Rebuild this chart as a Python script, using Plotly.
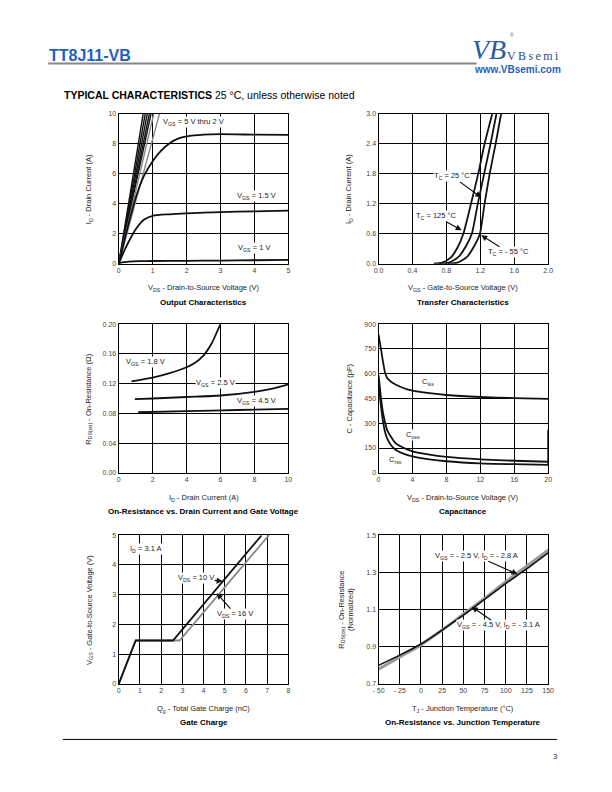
import plotly.graph_objects as go

# ---------------- DATA ----------------
# Output characteristics
out_steep_ends = [0.72, 0.78, 0.84, 0.90, 0.95, 1.03, 1.20]   # VDS where ID hits 10 A
out_steep_colors = ["#111", "#111", "#111", "#111", "#111", "#888", "#888"]
out_2v_x = [0, 0.25, 0.5, 0.75, 1.0, 1.25, 1.5, 1.75, 2.0, 2.5, 3.0, 4.0, 5.0]
out_2v_y = [0, 2.3, 4.4, 5.9, 6.85, 7.55, 8.05, 8.35, 8.5, 8.62, 8.65, 8.62, 8.6]
out_15v_x = [0, 0.15, 0.3, 0.5, 0.75, 1.0, 1.5, 2.0, 3.0, 4.0, 5.0]
out_15v_y = [0, 0.8, 1.5, 2.3, 2.95, 3.2, 3.3, 3.36, 3.45, 3.5, 3.55]
out_1v_x = [0, 0.1, 0.3, 0.6, 1.0, 2.0, 3.0, 4.0, 5.0]
out_1v_y = [0, 0.08, 0.14, 0.17, 0.18, 0.19, 0.21, 0.23, 0.25]

# Transfer characteristics
tr_125_x = [0.65, 0.75, 0.85, 0.93, 1.0, 1.09, 1.175, 1.25, 1.34]
tr_125_y = [0.0, 0.02, 0.12, 0.32, 0.6, 1.2, 1.8, 2.4, 3.0]
tr_25_x = [0.72, 0.83, 0.94, 1.03, 1.1, 1.17, 1.245, 1.32, 1.39]
tr_25_y = [0.0, 0.02, 0.13, 0.35, 0.6, 1.2, 1.8, 2.4, 3.0]
tr_m55_x = [0.82, 0.93, 1.04, 1.13, 1.195, 1.25, 1.31, 1.38, 1.445]
tr_m55_y = [0.0, 0.02, 0.13, 0.36, 0.6, 1.2, 1.8, 2.4, 3.0]

# On-resistance vs drain current
ron_18_x = [0.75, 2.0, 3.0, 4.0, 4.5, 5.0, 5.5, 5.8, 6.0]
ron_18_y = [0.123, 0.128, 0.134, 0.142, 0.148, 0.158, 0.175, 0.19, 0.2]
ron_25_x = [0.95, 2.0, 4.0, 6.0, 8.0, 9.0, 10.0]
ron_25_y = [0.099, 0.1, 0.102, 0.104, 0.109, 0.113, 0.119]
ron_45_x = [1.15, 4.0, 7.0, 10.0]
ron_45_y = [0.0815, 0.083, 0.0845, 0.086]

# Capacitance
cap_x = [0, 0.25, 0.5, 0.75, 1.0, 1.5, 2.0, 3.0, 4.0, 6.0, 8.0, 12.0, 16.0, 20.0]
cap_ciss = [835, 760, 680, 610, 575, 550, 535, 512, 497, 482, 471, 459, 452, 447]
cap_coss = [590, 470, 370, 310, 260, 215, 180, 150, 130, 110, 97, 82, 73, 67]
cap_crss = [560, 420, 320, 250, 210, 165, 140, 115, 100, 82, 70, 57, 52, 48]
cap_edge_y = [45, 260]

# Gate charge
gc_10_x = [0, 0.8, 2.56, 6.74]
gc_10_y = [0, 1.46, 1.46, 5.0]
gc_16_x = [0, 0.8, 2.87, 7.08]
gc_16_y = [0, 1.46, 1.46, 5.0]

# On-resistance vs junction temperature
tj_x = [-50, -25, 0, 25, 50, 75, 100, 125, 150]
tj_45 = [0.80, 0.855, 0.915, 0.99, 1.07, 1.155, 1.24, 1.32, 1.405]
tj_25 = [0.78, 0.845, 0.91, 0.99, 1.075, 1.16, 1.25, 1.335, 1.42]
tj_ticks = [-50, -25, 0, 25, 50, 75, 100, 125, 150]
tj_ticktext = ["- 50", "- 25", "0", "25", "50", "75", "100", "125", "150"]

# ---------------- LAYOUT HELPERS ----------------
W, H = 612, 792
def px_x(p): return p / W
def px_y(p): return 1 - p / H

cols = [(115, 288), (380, 553)]
rows = [(111, 262), (323, 473), (536, 686)]

fig = go.Figure()
FONT = "Liberation Sans, Arial, sans-serif"
TICKC = "#444"

def axis_common(**kw):
    d = dict(showgrid=True, gridcolor="#000", gridwidth=1.2, zeroline=False,
             showline=True, linecolor="#000", linewidth=1.2, mirror=True,
             ticks="", tickfont=dict(family=FONT, size=7, color=TICKC))
    d.update(kw)
    return d

panels = [
    dict(col=0, row=0, xr=[0, 5], xd=1, yr=[0, 10], yd=2, xf="", yf=""),
    dict(col=1, row=0, xr=[0, 2], xd=0.4, yr=[0, 3], yd=0.6, xf=".1f", yf=".1f"),
    dict(col=0, row=1, xr=[0, 10], xd=2, yr=[0, 0.2], yd=0.04, xf="", yf=".2f"),
    dict(col=1, row=1, xr=[0, 20], xd=4, yr=[0, 900], yd=150, xf="", yf=""),
    dict(col=0, row=2, xr=[0, 8], xd=1, yr=[0, 5], yd=1, xf="", yf=""),
    dict(col=1, row=2, xr=[-50, 150], xd=25, yr=[0.7, 1.5], yd=0.2, xf="", yf=".1f"),
]

lay = {}
for i, p in enumerate(panels, start=1):
    c0, c1 = cols[p["col"]]
    r0, r1 = rows[p["row"]]
    xn = "xaxis" if i == 1 else f"xaxis{i}"
    yn = "yaxis" if i == 1 else f"yaxis{i}"
    xa = axis_common(domain=[px_x(c0), px_x(c1)], range=p["xr"], dtick=p["xd"],
                     tick0=p["xr"][0], anchor="y" if i == 1 else f"y{i}", tickformat=p["xf"])
    ya = axis_common(domain=[px_y(r1), px_y(r0)], range=p["yr"], dtick=p["yd"],
                     tick0=p["yr"][0], anchor="x" if i == 1 else f"x{i}", tickformat=p["yf"])
    if i == 6:
        xa.update(tickmode="array", tickvals=tj_ticks, ticktext=tj_ticktext)
    lay[xn] = xa
    lay[yn] = ya

def ax(i):
    return ("x", "y") if i == 1 else (f"x{i}", f"y{i}")

def line(i, x, y, color="#111", width=1.8):
    xa, ya = ax(i)
    fig.add_trace(go.Scatter(x=x, y=y, mode="lines", xaxis=xa, yaxis=ya,
                             line=dict(color=color, width=width, shape="spline", smoothing=0.6),
                             showlegend=False, hoverinfo="skip"))

def straight(i, x, y, color="#111", width=1.8):
    xa, ya = ax(i)
    fig.add_trace(go.Scatter(x=x, y=y, mode="lines", xaxis=xa, yaxis=ya,
                             line=dict(color=color, width=width),
                             showlegend=False, hoverinfo="skip"))

# Panel 1
for e, c in zip(out_steep_ends, out_steep_colors):
    straight(1, [0, e], [0, 10], color=c, width=1.4)
line(1, out_2v_x, out_2v_y)
line(1, out_15v_x, out_15v_y)
line(1, out_1v_x, out_1v_y)

# Panel 2
line(2, tr_125_x, tr_125_y)
line(2, tr_25_x, tr_25_y)
line(2, tr_m55_x, tr_m55_y)

# Panel 3
line(3, ron_18_x, ron_18_y)
line(3, ron_25_x, ron_25_y)
line(3, ron_45_x, ron_45_y)

# Panel 4
line(4, cap_x, cap_ciss)
line(4, cap_x, cap_coss)
line(4, cap_x, cap_crss)
straight(4, [cap_x[-1], cap_x[-1]], cap_edge_y, color="#333", width=2)

# Panel 5
straight(5, gc_16_x, gc_16_y, color="#888", width=1.8)
straight(5, gc_10_x, gc_10_y, color="#111", width=1.8)

# Panel 6
line(6, tj_x, tj_25, color="#999", width=3)
line(6, tj_x, tj_45, color="#111", width=1.6)

ann = []
def txt(x, y, s, size=8, bold=False, color="#222", xanchor="center", yanchor="middle", angle=0, family=FONT, xref="paper", yref="paper"):
    if bold:
        s = "<b>" + s + "</b>"
    ann.append(dict(x=x, y=y, xref=xref, yref=yref, text=s, showarrow=False,
                    font=dict(family=family, size=size, color=color),
                    xanchor=xanchor, yanchor=yanchor, textangle=angle, borderpad=0))

def dtxt(i, x, y, s, size=7.5):
    xa, ya = ax(i)
    ann.append(dict(x=x, y=y, xref=xa, yref=ya, text=s, showarrow=False,
                    font=dict(family=FONT, size=size, color="#222"), bgcolor="white",
                    borderpad=0))

def arrow(i, tx, ty, x, y, s, size=7.5):
    xa, ya = ax(i)
    ann.append(dict(x=x, y=y, xref=xa, yref=ya, ax=tx, ay=ty, axref=xa, ayref=ya,
                    text=s, showarrow=True, arrowhead=2, arrowsize=1, arrowwidth=1.2,
                    arrowcolor="#111", font=dict(family=FONT, size=size, color="#222"),
                    bgcolor="white", borderpad=0))

# Panel annotations
dtxt(1, 2.2, 9.45, "V<sub>GS</sub> = 5 V thru 2 V")
dtxt(1, 4.05, 4.5, "V<sub>GS</sub> = 1.5 V")
dtxt(1, 4.0, 1.06, "V<sub>GS</sub> = 1 V")

arrow(2, 0.87, 1.75, 1.21, 1.33, "T<sub>C</sub> = 25 °C")
arrow(2, 0.68, 0.95, 0.98, 0.67, "T<sub>C</sub> = 125 °C")
arrow(2, 1.53, 0.23, 1.21, 0.57, "T<sub>C</sub> = - 55 °C")

dtxt(3, 1.6, 0.149, "V<sub>GS</sub> = 1.8 V")
dtxt(3, 5.7, 0.121, "V<sub>GS</sub> = 2.5 V")
dtxt(3, 8.1, 0.097, "V<sub>GS</sub> = 4.5 V")

dtxt(4, 5.8, 551, "C<sub>iss</sub>")
dtxt(4, 4.1, 229, "C<sub>oss</sub>")
dtxt(4, 2.0, 80, "C<sub>rss</sub>")

dtxt(5, 1.3, 4.55, "I<sub>D</sub> = 3.1 A")
arrow(5, 3.65, 3.55, 4.9, 3.45, "V<sub>DS</sub> = 10 V")
arrow(5, 5.5, 2.35, 4.62, 3.05, "V<sub>DS</sub> = 16 V")

arrow(6, 65, 1.39, 114, 1.29, "V<sub>GS</sub> = - 2.5 V, I<sub>D</sub> = - 2.8 A")
arrow(6, 92, 1.015, 60, 1.115, "V<sub>GS</sub> = - 4.5 V, I<sub>D</sub> = - 3.1 A")

# Axis titles and panel titles
xtitles = [
    "V<sub>DS</sub> - Drain-to-Source Voltage (V)",
    "V<sub>GS</sub> - Gate-to-Source Voltage (V)",
    "I<sub>D</sub> - Drain Current (A)",
    "V<sub>DS</sub> - Drain-to-Source Voltage (V)",
    "Q<sub>g</sub> - Total Gate Charge (nC)",
    "T<sub>J</sub> - Junction Temperature (°C)",
]
ytitles = [
    "I<sub>D</sub> - Drain Current (A)",
    "I<sub>D</sub> - Drain Current (A)",
    "R<sub>DS(on)</sub> - On-Resistance (Ω)",
    "C - Capacitance (pF)",
    "V<sub>GS</sub> - Gate-to-Source Voltage (V)",
    "R<sub>DS(on)</sub> - On-Resistance<br>(Normalized)",
]
ptitles = [
    "Output Characteristics",
    "Transfer Characteristics",
    "On-Resistance vs. Drain Current and Gate Voltage",
    "Capacitance",
    "Gate Charge",
    "On-Resistance vs. Junction Temperature",
]
for i, p in enumerate(panels):
    c0, c1 = cols[p["col"]]
    r0, r1 = rows[p["row"]]
    cx = (c0 + c1) / 2
    txt(px_x(cx), px_y(r1 + 25), xtitles[i], size=7.5)
    txt(px_x(cx), px_y(r1 + 39), ptitles[i], size=8, bold=True, color="#000")
    yx = c0 - 30 if i != 5 else c0 - 33
    txt(px_x(yx), px_y((r0 + r1) / 2), ytitles[i], size=7.5, angle=-90)

# Header
txt(px_x(43), px_y(52), "TT8J11-VB", size=16, bold=True, color="#1f5fbf", xanchor="left")
txt(px_x(493), px_y(46), "<i>VB</i>", size=28, color="#2c5aa0",
    family="Liberation Serif, serif")
txt(px_x(516), px_y(31), "®", size=5, color="#666")
txt(px_x(538), px_y(52), "V\u2009B\u2009s\u2009e\u2009m\u2009i", size=12, color="#2c4a8c",
    family="Liberation Serif, serif")
txt(px_x(567), px_y(66), "www.VBsemi.com", size=10, bold=True, color="#1f5fbf", xanchor="right")
txt(px_x(58), px_y(92), "<b>TYPICAL CHARACTERISTICS</b> 25 °C, unless otherwise noted",
    size=10.5, color="#000", xanchor="left")
txt(px_x(560), px_y(759), "3", size=8, color="#333")

shapes = [
    dict(type="line", xref="paper", yref="paper", x0=px_x(43), x1=px_x(480),
         y0=px_y(60), y1=px_y(60), line=dict(color="#888", width=2)),
    dict(type="line", xref="paper", yref="paper", x0=px_x(58), x1=px_x(562),
         y0=px_y(742), y1=px_y(742), line=dict(color="#000", width=1)),
]

fig.update_layout(width=W, height=H, margin=dict(l=0, r=0, t=0, b=0),
                  paper_bgcolor="white", plot_bgcolor="white",
                  annotations=ann, shapes=shapes, showlegend=False, **lay)
fig.write_html("out.html", config={"displayModeBar": False},
               post_script="document.body.style.margin='0px';document.body.style.overflow='hidden';")
